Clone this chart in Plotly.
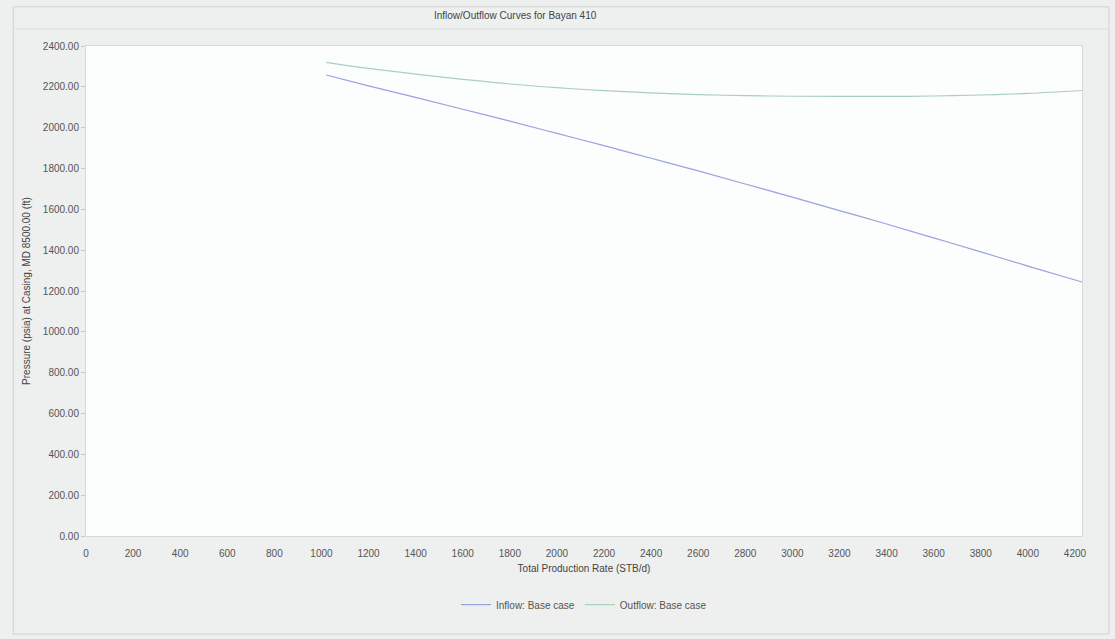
import plotly.graph_objects as go

# Data
rate = [1020, 1200, 1400, 1600, 1800, 2000, 2200, 2400, 2600, 2800, 3000,
        3200, 3400, 3600, 3800, 4000, 4230]
inflow = [2258, 2205, 2148, 2090, 2032, 1972, 1912, 1850, 1788, 1724, 1660,
          1594, 1528, 1460, 1392, 1322, 1244]
outflow = [2320, 2290, 2262, 2237, 2214, 2196, 2181, 2170, 2162, 2157, 2154,
           2153, 2153, 2155, 2160, 2168, 2182]

x_ticks = list(range(0, 4201, 200))
y_ticks = list(range(0, 2401, 200))

title_text = "Inflow/Outflow Curves for Bayan 410"
x_title = "Total Production Rate (STB/d)"
y_title = "Pressure (psia) at Casing, MD 8500.00 (ft)"

fig = go.Figure()
fig.add_trace(go.Scatter(x=rate, y=inflow, mode="lines", name="Inflow: Base case",
                         line=dict(color="#97a3dc", width=1.2), line_shape="spline"))
fig.add_trace(go.Scatter(x=rate, y=outflow, mode="lines", name="Outflow: Base case",
                         line=dict(color="#a9cfc0", width=1.2), line_shape="spline"))

font_family = "Liberation Sans, Arial, sans-serif"
fig.update_layout(
    width=1115, height=639,
    margin=dict(l=86, r=33, t=46, b=103),
    paper_bgcolor="#eeefef",
    plot_bgcolor="#fcfdfd",
    font=dict(family=font_family, size=10, color="#555555"),
    title=dict(text=title_text, x=0.462, xanchor="center", y=0.975, yanchor="middle",
               font=dict(size=10, color="#444444")),
    xaxis=dict(range=[0, 4230], tickvals=x_ticks, showgrid=False, zeroline=False,
               showline=True, linecolor="#d6d8dc", mirror=True,
               ticks="", ticklabelstandoff=8,
               title=dict(text=x_title, standoff=6, font=dict(size=10, color="#444444"))),
    yaxis=dict(range=[0, 2400], tickvals=y_ticks, tickformat=".2f", showgrid=False,
               zeroline=False, showline=True, linecolor="#d6d8dc", mirror=True,
               ticks="outside", ticklen=4, tickcolor="#c8c8c8",
               title=dict(text=y_title, standoff=10, font=dict(size=10, color="#444444"))),
    legend=dict(orientation="h", x=0.5, xanchor="center", y=-0.14, yanchor="middle",
                bgcolor="rgba(0,0,0,0)", font=dict(size=10, color="#555555"),
                itemwidth=30),
    showlegend=True,
)

# outer frame and title band line
fig.add_shape(type="rect", xref="paper", yref="paper", x0=-0.073, x1=1.027, y0=-0.2, y1=1.08,
              line=dict(color="#d0d0d0", width=1), fillcolor="rgba(0,0,0,0)", layer="below")
fig.add_shape(type="line", xref="paper", yref="paper", x0=-0.073, x1=1.027, y0=1.035, y1=1.035,
              line=dict(color="#dcdcdc", width=1))

fig.write_html("out.html")
